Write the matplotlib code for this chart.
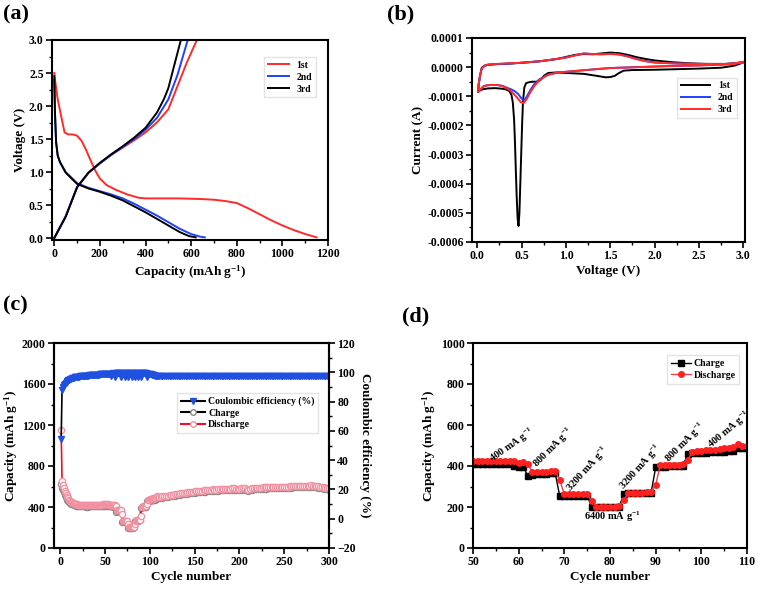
import numpy as np
import matplotlib
matplotlib.use("Agg")
import matplotlib.pyplot as plt
from matplotlib.ticker import MultipleLocator, FuncFormatter
from matplotlib.lines import Line2D

plt.rcParams['font.family'] = ['Liberation Serif', 'DejaVu Serif']
plt.rcParams['font.weight'] = 'bold'
plt.rcParams['axes.labelweight'] = 'bold'
plt.rcParams['mathtext.fontset'] = 'custom'
plt.rcParams['mathtext.rm'] = 'Liberation Serif:bold'
plt.rcParams['mathtext.bf'] = 'Liberation Serif:bold'
plt.rcParams['mathtext.it'] = 'Liberation Serif:bold:italic'

#%% (a) charge / discharge profiles
dis1_cap = [0, 5, 15, 30, 45, 60, 80, 100, 120, 140, 160, 180, 200, 230, 270, 320, 370, 400,
            450, 500, 550, 600, 650, 700, 750, 800, 850, 900, 950, 1000, 1050, 1100, 1150]
dis1_v = [2.5, 2.35, 2.1, 1.85, 1.6, 1.57, 1.57, 1.55, 1.47, 1.33, 1.17, 1.02, 0.9, 0.8, 0.73,
          0.66, 0.61, 0.6, 0.6, 0.6, 0.6, 0.595, 0.59, 0.58, 0.56, 0.53, 0.45, 0.36, 0.27,
          0.19, 0.12, 0.06, 0.01]
dis2_cap = [0, 3, 8, 15, 25, 50, 100, 150, 200, 250, 300, 350, 400, 450, 500, 550, 600, 640, 660]
dis2_v = [2.4, 1.9, 1.45, 1.25, 1.15, 1.0, 0.83, 0.76, 0.71, 0.66, 0.6, 0.52, 0.43, 0.34,
          0.24, 0.14, 0.06, 0.02, 0.01]
dis3_cap = [0, 3, 8, 15, 25, 50, 100, 150, 200, 250, 300, 350, 400, 450, 500, 550, 590, 620]
dis3_v = [2.45, 1.9, 1.45, 1.25, 1.15, 0.99, 0.82, 0.75, 0.7, 0.64, 0.57, 0.48, 0.39, 0.29,
          0.19, 0.09, 0.03, 0.01]
chg1_cap = [0, 50, 100, 150, 200, 250, 300, 350, 400, 450, 500, 540, 580, 625]
chg1_v = [0.0, 0.33, 0.77, 0.99, 1.13, 1.26, 1.37, 1.48, 1.6, 1.75, 1.95, 2.3, 2.65, 3.0]
chg2_cap = [0, 50, 100, 150, 200, 250, 300, 350, 400, 450, 500, 540, 585]
chg2_v = [0.0, 0.33, 0.77, 0.99, 1.13, 1.26, 1.38, 1.5, 1.64, 1.82, 2.1, 2.47, 3.0]
chg3_cap = [0, 50, 100, 150, 200, 250, 300, 350, 400, 450, 480, 500, 530, 555]
chg3_v = [0.0, 0.32, 0.77, 0.99, 1.14, 1.27, 1.39, 1.52, 1.67, 1.9, 2.1, 2.27, 2.67, 3.0]

#%% (b) cyclic voltammetry, current in 1e-4 A
cv1_v = [3.0, 2.9, 2.75, 2.5, 2.25, 2.0, 1.75, 1.65, 1.6, 1.55, 1.5, 1.45, 1.35, 1.2, 1.0, 0.9,
         0.8, 0.75, 0.72, 0.68, 0.62, 0.58, 0.55, 0.53, 0.515, 0.505, 0.495, 0.485, 0.475,
         0.465, 0.455, 0.445, 0.435, 0.425, 0.415, 0.40, 0.385, 0.36, 0.33, 0.28, 0.2, 0.12,
         0.06, 0.03, 0.01,
         0.015, 0.03, 0.05, 0.08, 0.12, 0.2, 0.35, 0.5, 0.7, 0.9, 1.0, 1.1, 1.2, 1.3, 1.4, 1.5,
         1.6, 1.7, 1.8, 1.9, 2.0, 2.2, 2.4, 2.6, 2.8, 2.9, 3.0]
cv1_i = [0.16, 0.05, -0.02, -0.05, -0.07, -0.09, -0.10, -0.12, -0.2, -0.3, -0.34, -0.35, -0.3,
         -0.23, -0.2, -0.18, -0.2, -0.3, -0.42, -0.5, -0.5, -0.52, -0.55, -0.7, -1.2, -2.0,
         -3.0, -4.0, -5.0, -5.45, -5.2, -4.5, -3.6, -2.6, -1.8, -1.2, -0.95, -0.82, -0.77,
         -0.74, -0.72, -0.73, -0.76, -0.8, -0.85,
         -0.6, -0.3, -0.02, 0.05, 0.08, 0.1, 0.12, 0.15, 0.2, 0.28, 0.35, 0.42, 0.45, 0.44,
         0.47, 0.5, 0.48, 0.42, 0.34, 0.28, 0.23, 0.17, 0.13, 0.11, 0.11, 0.13, 0.18]
cv2_v = [3.0, 2.9, 2.7, 2.5, 2.2, 2.0, 1.7, 1.5, 1.3, 1.15, 1.0, 0.9, 0.8, 0.75, 0.7, 0.65,
         0.6, 0.56, 0.53, 0.5, 0.46, 0.42, 0.38, 0.33, 0.28, 0.22, 0.15, 0.1, 0.07, 0.04, 0.01,
         0.015, 0.03, 0.05, 0.08, 0.12, 0.2, 0.35, 0.5, 0.7, 0.85, 1.0, 1.1, 1.2, 1.3, 1.4, 1.5,
         1.6, 1.7, 1.8, 1.9, 2.0, 2.2, 2.5, 2.8, 2.9, 3.0]
cv2_i = [0.17, 0.11, 0.08, 0.06, 0.04, 0.02, -0.01, -0.03, -0.08, -0.12, -0.16, -0.19, -0.26,
         -0.33, -0.42, -0.55, -0.78, -1.0, -1.15, -1.08, -0.92, -0.82, -0.76, -0.7, -0.64,
         -0.61, -0.61, -0.63, -0.66, -0.75, -0.85,
         -0.6, -0.3, -0.05, 0.04, 0.08, 0.1, 0.12, 0.15, 0.2, 0.26, 0.33, 0.4, 0.47, 0.45, 0.44,
         0.46, 0.44, 0.37, 0.28, 0.21, 0.16, 0.13, 0.11, 0.11, 0.13, 0.17]
cv3_v = [3.0, 2.9, 2.7, 2.5, 2.2, 2.0, 1.7, 1.5, 1.3, 1.15, 1.0, 0.9, 0.8, 0.75, 0.7, 0.65,
         0.6, 0.56, 0.52, 0.49, 0.45, 0.42, 0.38, 0.33, 0.28, 0.22, 0.15, 0.1, 0.07, 0.04, 0.01,
         0.015, 0.03, 0.05, 0.08, 0.12, 0.2, 0.35, 0.5, 0.7, 0.85, 1.0, 1.1, 1.2, 1.3, 1.4, 1.5,
         1.6, 1.7, 1.8, 1.9, 2.0, 2.2, 2.5, 2.8, 2.9, 3.0]
cv3_i = [0.17, 0.11, 0.08, 0.06, 0.04, 0.02, -0.01, -0.03, -0.08, -0.12, -0.16, -0.19, -0.26,
         -0.35, -0.45, -0.62, -0.85, -1.08, -1.24, -1.2, -1.05, -0.95, -0.82, -0.72, -0.65,
         -0.61, -0.61, -0.63, -0.66, -0.75, -0.85,
         -0.6, -0.3, -0.05, 0.05, 0.09, 0.11, 0.13, 0.15, 0.2, 0.26, 0.33, 0.4, 0.47, 0.45, 0.44,
         0.45, 0.43, 0.36, 0.27, 0.2, 0.16, 0.13, 0.11, 0.11, 0.13, 0.17]

#%% (c)/(d) cycling data: cycles 1-110 each, then every 2nd cycle
cycles = list(range(1, 111)) + list(range(112, 301, 2))
charge = [625, 585, 565, 542, 520, 500, 484, 470, 458, 448,
          440, 434, 429, 425, 421, 418, 416, 414, 412, 411,
          410, 409, 408, 407, 406, 406, 405, 405, 404, 404,
          404, 405, 405, 406, 406, 407, 407, 408, 408, 409,
          409, 410, 410, 411, 410, 411, 412, 411, 412,
          410, 410, 410, 410, 409, 409, 409, 408, 408,
          398, 397, 396, 352,
          358, 360, 362, 363, 364, 365, 253,
          254, 255, 255, 256, 256, 256, 198,
          199, 199, 200, 200, 200, 201, 263,
          266, 267, 268, 268, 269, 270, 393,
          396, 397, 398, 399, 400, 401, 459,
          461, 462, 463, 464, 466, 467, 469, 470, 472, 474,
          490, 489, 488,
          488, 491, 494, 497, 500, 503, 506, 509, 512, 515,
          518, 520, 523, 526, 528, 530, 533, 535, 538, 540,
          542, 544, 546, 548, 550, 551, 553, 555, 558, 560,
          558, 557, 559, 561, 563, 564, 565, 566, 567, 568,
          569, 570, 568, 567, 566, 569, 572, 570, 563, 554,
          563, 570, 572, 574, 576, 577, 578, 579, 580, 580,
          582, 583, 584, 582, 581, 583, 585, 586, 585, 586,
          587, 588, 589, 590, 591, 592, 593, 592, 591, 591,
          593, 595, 596, 597, 598, 597, 595, 593, 589, 586,
          583, 580, 577, 574, 570]
discharge = [1150, 655, 618, 588, 560, 536, 515, 498, 483, 470,
             460, 452, 445, 440, 436, 432, 429, 427, 425, 424,
             423, 422, 421, 420, 419, 418, 418, 417, 417, 416,
             416, 417, 417, 418, 418, 419, 419, 420, 420, 421,
             421, 422, 422, 423, 423, 424, 424, 425, 425,
             425, 425, 425, 425, 424, 424, 424, 423, 423,
             424, 416, 418, 408,
             372, 372, 373, 373, 374, 375, 331,
             262, 262, 263, 263, 263, 262, 230,
             202, 201, 201, 202, 202, 203, 233,
             268, 269, 270, 270, 271, 271, 308,
             404, 405, 405, 406, 407, 408, 428,
             470, 472, 474, 476, 478, 480, 483, 486, 489, 493,
             508, 500, 497,
             500, 503, 506, 509, 512, 515, 518, 521, 524, 527,
             530, 532, 535, 538, 540, 542, 545, 547, 550, 552,
             554, 556, 558, 560, 562, 563, 565, 567, 570, 572,
             570, 569, 571, 573, 575, 576, 577, 578, 579, 580,
             581, 582, 580, 579, 578, 581, 584, 582, 575, 566,
             575, 582, 584, 586, 588, 589, 590, 591, 592, 592,
             594, 595, 596, 594, 593, 595, 597, 598, 597, 598,
             599, 600, 601, 602, 603, 604, 605, 604, 603, 603,
             605, 607, 608, 609, 610, 609, 607, 605, 601, 598,
             595, 592, 589, 586, 582]
coulombic = [54.3, 88.2, 89.8, 91.0, 92.0, 92.8, 93.5, 94.1, 94.6, 95.0,
             95.3, 95.6, 95.9, 96.1, 96.3, 96.5, 96.7, 96.8, 96.9, 97.0,
             97.1, 97.2, 97.3, 97.4, 97.5, 97.6, 97.6, 97.7, 97.7, 97.8,
             97.8, 97.9, 97.9, 98.0, 98.0, 98.1, 98.1, 98.2, 98.2, 98.3,
             98.3, 98.4, 98.4, 98.5, 98.5, 98.6, 98.6, 98.7, 98.7,
             98.8, 98.9, 99.0, 98.9, 99.0, 99.1, 99.0, 97.2, 99.1,
             99.2, 99.0, 96.5, 99.3,
             99.3, 99.4, 99.2, 99.4, 99.5, 96.8, 99.4,
             99.5, 99.3, 96.9, 99.5, 99.6, 99.4, 96.5,
             99.6, 99.5, 99.7, 96.7, 99.6, 99.5, 96.8,
             99.6, 99.7, 99.5, 96.9, 99.6, 99.4, 96.6,
             99.5, 99.4, 99.6, 99.3, 99.4, 99.2, 96.8,
             99.1, 99.0, 98.8, 98.6, 98.4, 98.2, 98.0, 97.9, 97.8, 97.7,
             97.6, 97.6, 97.5,
             97.6, 97.5, 97.4, 97.6, 97.5, 97.7, 97.5, 97.4, 97.6, 97.5,
             97.5, 97.6, 97.4, 97.5, 97.7, 97.5, 97.6, 97.4, 97.5, 97.6,
             97.5, 97.4, 97.6, 97.5, 97.7, 97.5, 97.4, 97.6, 97.5, 97.5,
             97.6, 97.4, 97.5, 97.6, 97.5, 97.7, 97.5, 97.4, 97.6, 97.5,
             97.5, 97.6, 97.4, 97.5, 97.7, 97.5, 97.6, 97.4, 97.5, 97.8,
             97.5, 97.4, 97.6, 97.5, 97.7, 97.5, 97.4, 97.6, 97.5, 97.5,
             97.6, 97.4, 97.5, 97.6, 97.5, 97.7, 97.5, 97.4, 97.6, 97.5,
             97.5, 97.6, 97.4, 97.5, 97.7, 97.5, 97.6, 97.4, 97.5, 97.6,
             97.5, 97.4, 97.6, 97.5, 97.7, 97.5, 97.4, 97.6, 97.5, 97.5,
             97.6, 97.4, 97.5, 97.6, 97.5]

rate_labels = ['400 mA g$^{-1}$', '800 mA g$^{-1}$', '3200 mA g$^{-1}$', '6400 mA g$^{-1}$',
               '3200 mA g$^{-1}$', '800 mA g$^{-1}$', '400 mA g$^{-1}$']

RED = '#ff2a2a'
BLUE = '#2040ff'


def style_axes(ax):
    for sp in ax.spines.values():
        sp.set_linewidth(1.5)
    ax.tick_params(which='major', direction='out', length=4, width=1.2, labelsize=8.5,
                   pad=2)
    ax.tick_params(which='minor', direction='out', length=2, width=1.0)


fig = plt.figure(figsize=(7.58, 5.89), dpi=100)
W, H = 758, 589
ax_a = fig.add_axes([52 / W, 1 - 240 / H, 276 / W, 200 / H])
ax_b = fig.add_axes([472 / W, 1 - 242 / H, 273 / W, 204 / H])
ax_c = fig.add_axes([54 / W, 1 - 548 / H, 275 / W, 205 / H])
ax_d = fig.add_axes([473 / W, 1 - 548 / H, 274 / W, 205 / H])

#%% panel a
ax_a.plot(dis1_cap, dis1_v, color=RED, lw=1.4, label='1st')
ax_a.plot(chg1_cap, chg1_v, color=RED, lw=1.4)
ax_a.plot(dis2_cap, dis2_v, color=BLUE, lw=1.4, label='2nd')
ax_a.plot(chg2_cap, chg2_v, color=BLUE, lw=1.4)
ax_a.plot(dis3_cap, dis3_v, color='black', lw=1.4, label='3rd')
ax_a.plot(chg3_cap, chg3_v, color='black', lw=1.4)
ax_a.set_xlim(-10, 1200)
ax_a.set_ylim(-0.03, 3.0)
ax_a.xaxis.set_major_locator(MultipleLocator(200))
ax_a.xaxis.set_minor_locator(MultipleLocator(100))
ax_a.yaxis.set_major_locator(MultipleLocator(0.5))
ax_a.yaxis.set_minor_locator(MultipleLocator(0.25))
ax_a.yaxis.set_major_formatter(FuncFormatter(lambda v, p: f'{v:.1f}'))
ax_a.set_xlabel('Capacity (mAh g$^{-1}$)', fontsize=9.5, labelpad=2)
ax_a.set_ylabel('Voltage (V)', fontsize=9.5, labelpad=2)
ax_a.legend(loc='upper right', bbox_to_anchor=(0.975, 0.94), fontsize=7, frameon=True,
            edgecolor='#dddddd', fancybox=False, handlelength=2.2, borderpad=0.4,
            labelspacing=0.3)
style_axes(ax_a)

#%% panel b
ax_b.plot(cv1_v, np.array(cv1_i) * 1e-4, color='black', lw=1.4, label='1st')
ax_b.plot(cv2_v, np.array(cv2_i) * 1e-4, color=BLUE, lw=1.4, label='2nd')
ax_b.plot(cv3_v, np.array(cv3_i) * 1e-4, color=RED, lw=1.4, label='3rd')
ax_b.set_xlim(-0.06, 3.02)
ax_b.set_ylim(-0.0006, 0.0001)
ax_b.xaxis.set_major_locator(MultipleLocator(0.5))
ax_b.xaxis.set_minor_locator(MultipleLocator(0.25))
ax_b.yaxis.set_major_locator(MultipleLocator(0.0001))
ax_b.yaxis.set_minor_locator(MultipleLocator(0.00005))
ax_b.xaxis.set_major_formatter(FuncFormatter(lambda v, p: f'{v:.1f}'))
ax_b.yaxis.set_major_formatter(
    FuncFormatter(lambda v, p: f'{0.0 if abs(v) < 1e-9 else v:.4f}'))
ax_b.set_xlabel('Voltage (V)', fontsize=9.5, labelpad=2)
ax_b.set_ylabel('Current (A)', fontsize=9.5, labelpad=2)
ax_b.legend(loc='upper right', bbox_to_anchor=(0.99, 0.83), fontsize=7, frameon=True,
            edgecolor='#dddddd', fancybox=False, handlelength=3.0, borderpad=0.4,
            labelspacing=0.3)
style_axes(ax_b)

#%% panel c
ax_c.plot(cycles, charge, color='black', lw=1.2, marker='o', ms=4.5,
          mfc='white', mec='#888888', mew=0.8)
ax_c.plot(cycles, discharge, color='#e8102a', lw=1.2, marker='o', ms=4.5,
          mfc='#fff4f6', mec='#f090a0', mew=0.9)
ax_c.set_xlim(-7, 300)
ax_c.set_ylim(0, 2000)
ax_c.xaxis.set_major_locator(MultipleLocator(50))
ax_c.xaxis.set_minor_locator(MultipleLocator(25))
ax_c.yaxis.set_major_locator(MultipleLocator(400))
ax_c.yaxis.set_minor_locator(MultipleLocator(200))
ax_c.set_xlabel('Cycle number', fontsize=9.5, labelpad=2)
ax_c.set_ylabel('Capacity (mAh g$^{-1}$)', fontsize=9.5, labelpad=1)
style_axes(ax_c)

ax_c2 = ax_c.twinx()
ax_c2.plot(cycles, coulombic, color='black', lw=1.2, marker='v', ms=4,
           mfc='#2050e0', mec='#2050e0')
ax_c2.set_ylim(-20, 120)
ax_c2.yaxis.set_major_locator(MultipleLocator(20))
ax_c2.yaxis.set_minor_locator(MultipleLocator(10))
ax_c2.set_ylabel('Coulombic efficiency (%)', fontsize=9.5, rotation=270, labelpad=11)
style_axes(ax_c2)

handles_c = [
    Line2D([], [], color='black', lw=1.5, marker='v', ms=4, mfc='#2050e0', mec='#2050e0'),
    Line2D([], [], color='black', lw=1.5, marker='o', ms=4, mfc='white', mec='#888888'),
    Line2D([], [], color='#e8102a', lw=1.5, marker='o', ms=4, mfc='white', mec='#f090a0'),
]
ax_c2.legend(handles_c, ['Coulombic efficiency (%)', 'Charge', 'Discharge'],
             loc='upper left', bbox_to_anchor=(0.43, 0.78), fontsize=7, frameon=True,
             edgecolor='#dddddd', fancybox=False, handlelength=2.5, borderpad=0.4,
             labelspacing=0.25, handletextpad=0.3)

#%% panel d
d_idx = [i for i, c in enumerate(cycles) if 50 <= c <= 110]
d_cyc = [cycles[i] for i in d_idx]
d_chg = [charge[i] for i in d_idx]
d_dis = [discharge[i] for i in d_idx]
ax_d.plot(d_cyc, d_chg, color='black', lw=1.0, marker='s', ms=4, label='Charge')
ax_d.plot(d_cyc, d_dis, color='#f04050', lw=1.0, marker='o', ms=4,
          mfc='#ff2020', mec='#ff2020', label='Discharge')
ax_d.set_xlim(50, 110)
ax_d.set_ylim(0, 1000)
ax_d.xaxis.set_major_locator(MultipleLocator(10))
ax_d.xaxis.set_minor_locator(MultipleLocator(5))
ax_d.yaxis.set_major_locator(MultipleLocator(200))
ax_d.yaxis.set_minor_locator(MultipleLocator(100))
ax_d.set_xlabel('Cycle number', fontsize=9.5, labelpad=2)
ax_d.set_ylabel('Capacity (mAh g$^{-1}$)', fontsize=9.5, labelpad=2)
ax_d.legend(loc='upper right', bbox_to_anchor=(0.99, 0.965), fontsize=7, frameon=True,
            edgecolor='#dddddd', fancybox=False, handlelength=2.0, borderpad=0.4,
            labelspacing=0.3, handletextpad=0.3)
style_axes(ax_d)

label_pos = [(58.5, 500, 35), (67.5, 490, 45), (75, 385, 48), (80.5, 150, 0),
             (86.7, 395, 48), (96.5, 515, 45), (106, 575, 40)]
for txt, (x, y, rot) in zip(rate_labels, label_pos):
    ax_d.text(x, y, txt, fontsize=7.5, rotation=rot, ha='center', va='center',
              rotation_mode='anchor')

#%% panel letters
fig.text(0.004, 0.993, '(a)', fontsize=16, va='top')
fig.text(387 / W, 0.993, '(b)', fontsize=16, va='top')
fig.text(0.004, 1 - 295 / H, '(c)', fontsize=16, va='top')
fig.text(402 / W, 1 - 306 / H, '(d)', fontsize=16, va='top')

fig.savefig('out.png', dpi=100)
